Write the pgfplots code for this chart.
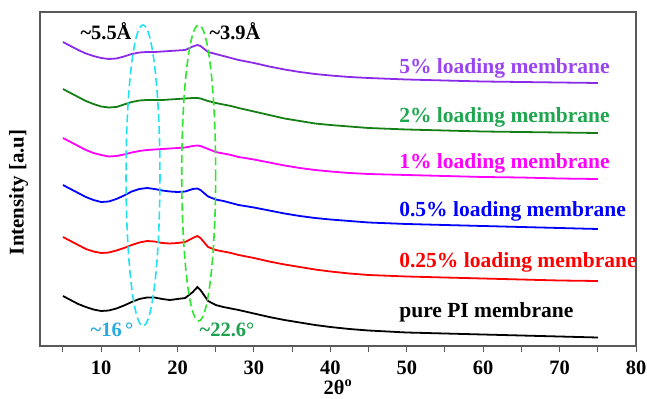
\documentclass[border=0pt]{standalone}
\usepackage{fontspec}
\setmainfont{Liberation Serif}
\usepackage{pgfplots}
\usepackage{pgfplotstable}
\pgfplotsset{compat=1.18}
\definecolor{cPurple}{HTML}{8B2BE8}
\definecolor{lPurple}{HTML}{9B45F0}
\definecolor{cGreen}{HTML}{157F15}
\definecolor{lGreen}{HTML}{1FA64F}
\definecolor{cMag}{HTML}{FF00FF}
\definecolor{cBlue}{HTML}{0000FF}
\definecolor{cRed}{HTML}{FF0000}
\definecolor{eCyan}{HTML}{1FE3F2}
\definecolor{tCyan}{HTML}{27A9E1}
\definecolor{eGreen}{HTML}{2EE62E}
\definecolor{tGreen}{HTML}{1CA14E}
\pgfplotstableread{
x pure p025 p05 p1 p2 p5
5 296 237 185 138 89 42
6 300 241 189 142 93 46
7 304 245 193 146 97 50
8 307 249 197 150 101 53.5
9 309.5 251.5 200 153 104 56
10 311 253 202 155 106.5 58
11 310.5 252.5 201.5 156.5 107.5 59
12 308.5 250.5 199 156 107 58.5
13 305.5 248 195.5 154.5 104.5 56.5
14 302 245 191.5 152.5 102 54
15 299 242.5 189 151 100.5 52.5
16 297.5 241 188 150 100 52
17 297.5 241.5 189 149.5 100 52
18 299 243 190.5 149 100 51.5
19 300 243.5 191.5 148.5 99.5 51
20 299 243 192 148 99 50.5
21 298 242 191.5 147.5 98.5 50
22 292 238 189 146 98 46.5
22.6 287 236 188.5 145.5 98 45
23 290 238 190 146 98.5 46
24 301 247 196.5 149 101 52
25 305 250 199.5 152 103 54
26 307 251.5 201 153.5 104.5 56
27 308.5 253 203 155 106 58
28 310 255 205 157 108 60
30 313.5 258 207.5 159.5 111.5 63
32 317 261.5 210.5 162.5 115 66.5
34 320 264.5 213.5 165.5 118.5 69.5
36 322.5 267 216 168 121 72
38 325 269.5 218 170 123.5 74
40 327 271.5 219.5 171.5 125 75.5
42.5 329 273.5 221 173 126.5 77
45 330.5 275 222.5 174 128 78
50 332.5 276.5 224 175 129.5 79.5
55 333.5 277.5 225 176 130.5 80.5
60 334.5 278.5 226 177 131.5 81.5
65 335.5 279.5 227 177.5 132 82
70 336.5 280.5 228 178.5 132.5 82.5
75 337.5 281 229 179 133 83
}\xrd
\begin{document}
\begin{tikzpicture}
\useasboundingbox (-40bp,-53bp) rectangle (607bp,346bp);
\begin{axis}[
  at={(0,0)}, anchor=south west,
  scale only axis, width=596bp, height=334bp,
  xmin=2, xmax=80, ymin=12, ymax=346, y dir=reverse,
  xtick={10,20,...,80}, minor xtick={5,15,...,75},
  ytick=\empty, xtick pos=bottom, tick align=outside,
  major tick length=6bp, minor tick length=6bp,
  axis line style={line width=1.1pt, color=black!65},
  every tick/.style={line width=1pt, color=black!65},
  /pgf/number format/assume math mode=true,
  font=\bfseries\fontsize{20.5}{22}\selectfont,
  xticklabel style={font=\bfseries\fontsize{20.5}{22}\selectfont, yshift=-5bp},
  xlabel={2θ\textsuperscript{o}},
  xlabel style={font=\bfseries\fontsize{20.5}{22}\selectfont, at={(axis description cs:0.5,0)}, anchor=center, yshift=-41bp},
  ylabel={Intensity [a.u]},
  ylabel style={font=\bfseries\fontsize{21}{22}\selectfont, at={(axis description cs:-0.014,0.46)}, anchor=south},
  clip=false,
]
\addplot[cPurple, line width=1.8pt] table[x=x,y=p5] {\xrd};
\addplot[cGreen, line width=1.8pt] table[x=x,y=p2] {\xrd};
\addplot[cMag, line width=1.8pt] table[x=x,y=p1] {\xrd};
\addplot[cBlue, line width=1.8pt] table[x=x,y=p05] {\xrd};
\addplot[cRed, line width=1.8pt] table[x=x,y=p025] {\xrd};
\addplot[black, line width=1.8pt] table[x=x,y=pure] {\xrd};
\draw[eCyan, line width=1.6pt, dash pattern=on 8bp off 4bp] (axis cs:15.48,175.5) ellipse [x radius=2.22, y radius=150.5];
\draw[eGreen, line width=1.6pt, dash pattern=on 8bp off 4bp] (axis cs:22.77,173) ellipse [x radius=2.22, y radius=148];
\begin{scope}[every node/.style={font=\bfseries\fontsize{21.6}{24}\selectfont, anchor=base west, inner sep=0pt}]
\node[text=lPurple] at (axis cs:49,73) {5\% loading membrane};
\node[text=lGreen] at (axis cs:49,122) {2\% loading membrane};
\node[text=cMag] at (axis cs:49,168) {1\% loading membrane};
\node[text=cBlue] at (axis cs:49,216) {0.5\% loading membrane};
\node[text=cRed] at (axis cs:49,267) {0.25\% loading membrane};
\node[text=black] at (axis cs:49,317) {pure PI membrane};
\end{scope}
\node[text=black, inner sep=0pt] at (axis cs:10.64,31) {\textasciitilde 5.5Å};
\node[text=black, inner sep=0pt] at (axis cs:27.52,31) {\textasciitilde 3.9Å};
\node[text=tCyan, inner sep=0pt] at (axis cs:11.42,330) {\textasciitilde 16\,\textdegree};
\node[text=tGreen, inner sep=0pt] at (axis cs:26.47,330) {\textasciitilde 22.6\textdegree};
\end{axis}
\end{tikzpicture}
\end{document}
